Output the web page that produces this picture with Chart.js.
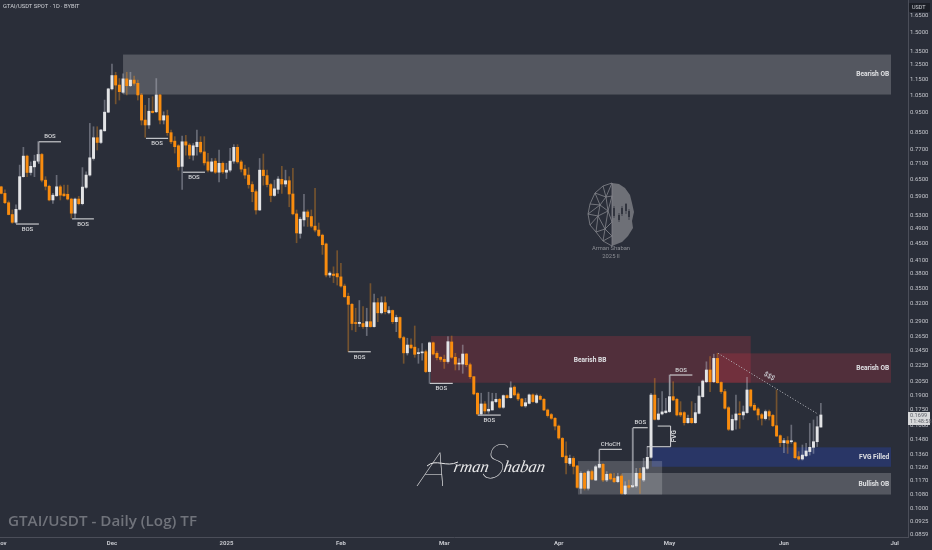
<!DOCTYPE html>
<html>
<head>
<meta charset="utf-8">
<title>GTAI/USDT</title>
<script src="https://cdn.jsdelivr.net/npm/chart.js@4"></script>
<style>
  html, body { margin: 0; padding: 0; background: #2a2e39; overflow: hidden; }
  canvas { display: block; }
</style>
</head>
<body>
<canvas id="chart" width="932" height="550"></canvas>
<script>
// daily candles, index 0 = 1 Nov 2024
const opens = [
  .623,.600,.569,.532,.509,.548,.660,.742,.676,.698,
  .721,.749,.647,.625,.578,.592,.623,.598,.597,.581,
  .536,.581,.566,.621,.666,.732,.824,.802,.857,.953,
  1.088,1.174,1.112,1.067,1.152,1.108,1.144,1.123,1.051,.911,
  .886,.958,.955,1.051,.911,.934,.848,.808,.787,.700,
  .805,.790,.746,.783,.803,.760,.718,.681,.721,.677,
  .712,.677,.685,.721,.780,.718,.689,.666,.631,.606,
  .546,.685,.664,.631,.593,.614,.650,.633,.645,.598,
  .534,.478,.516,.540,.526,.498,.487,.473,.450,.377,
  .379,.380,.373,.354,.334,.319,.287,.286,.286,.281,
  .289,.281,.322,.304,.322,.304,.308,.289,.296,.264,
  .242,.253,.250,.241,.242,.2436,.2175,.2563,.2414,.2360,
  .2332,.2303,.2575,.2360,.2270,.2270,.2404,.2262,.2113,.1923,
  .1709,.1809,.1738,.1748,.1833,.1857,.1775,.1897,.1875,.1991,
  .1915,.1861,.1789,.1815,.1905,.1825,.1890,.1857,.1748,.1703,
  .1667,.1595,.1487,.1345,.1289,.1327,.1271,.1119,.1219,.1119,
  .1231,.1173,.1261,.1283,.1173,.1214,.1185,.1162,.1200,.1085,
  .1136,.1128,.1134,.1219,.1173,.1254,.1335,.1903,.1657,.1709,
  .1722,.1732,.1886,.1857,.1722,.1722,.1626,.1667,.1626,.1715,
  .1886,.2053,.2195,.2053,.2345,.2045,.1941,.1771,.1560,.1651,
  .1709,.1699,.1722,.1959,.1795,.1758,.1702,.1664,.1732,.1695,
  .1598,.1510,.1451,.1468,.1459,.1451,.1340,.1322,.1347,.1379,
  .1413,.1459,.1586
];
const highs = [
  .625,.612,.575,.546,.562,.705,.780,.746,.718,.746,
  .806,.754,.660,.629,.600,.665,.629,.629,.629,.584,
  .584,.590,.695,.678,.894,.877,.877,.864,1.021,1.092,
  1.253,1.196,1.154,1.185,1.196,1.196,1.170,1.144,1.061,.991,
  1.031,1.041,1.154,1.055,.955,.964,.861,.829,.792,.832,
  .835,.797,.797,.861,.829,.829,.754,.732,.732,.768,
  .718,.712,.776,.792,.792,.725,.705,.695,.641,.612,
  .732,.751,.685,.635,.647,.660,.700,.685,.660,.692,
  .546,.524,.597,.546,.546,.618,.507,.476,.452,.384,
  .395,.433,.403,.358,.340,.321,.312,.326,.315,.312,
  .359,.338,.330,.333,.333,.315,.309,.300,.297,.266,
  .263,.262,.282,.248,.255,.2459,.2575,.2575,.2436,.2368,
  .239,.2654,.2664,.2414,.2344,.2530,.2414,.2282,.2113,.1930,
  .1923,.1833,.1934,.1923,.1923,.1868,.1905,.1905,.2053,.2007,
  .1930,.1868,.1868,.1915,.1915,.1915,.1905,.1868,.1758,.1715,
  .1677,.1605,.1495,.1459,.1352,.1340,.1276,.1231,.1226,.1242,
  .1242,.1276,.1392,.1289,.1231,.1219,.1219,.1219,.1214,.1162,
  .1173,.1575,.1254,.1254,.1327,.1419,.1921,.2092,.1868,.1941,
  .1868,.2134,.2053,.1868,.1833,.1732,.1699,.1833,.1815,.1996,
  .2073,.2300,.2368,.2402,.2414,.2053,.1967,.1783,.1699,.1903,
  .1833,.1788,.2105,.1967,.1815,.1771,.1715,.1748,.1748,.1705,
  .1959,.1517,.1487,.1502,.1604,.1459,.1379,.1432,.1446,.1619,
  .1651,.1684,.1815
];
const lows = [
  .598,.566,.531,.506,.506,.546,.658,.660,.666,.660,
  .717,.641,.612,.575,.567,.590,.578,.590,.578,.521,
  .521,.562,.562,.617,.662,.725,.768,.797,.855,.950,
  1.081,.999,1.021,1.061,1.051,1.102,1.112,1.021,.886,.826,
  .869,.948,.950,.891,.891,.835,.797,.755,.685,.614,
  .746,.731,.725,.746,.754,.705,.678,.678,.672,.641,
  .672,.653,.678,.712,.712,.678,.653,.618,.572,.533,
  .544,.629,.623,.572,.590,.600,.600,.623,.556,.531,
  .453,.465,.498,.497,.494,.482,.469,.424,.373,.372,
  .361,.356,.352,.332,.2436,.2756,.273,.281,.278,.267,
  .280,.280,.289,.302,.302,.302,.286,.273,.262,.228,
  .239,.248,.236,.228,.232,.2162,.2035,.239,.2323,.2303,
  .2215,.2282,.2344,.2195,.2195,.2154,.2236,.2093,.1905,.1698,
  .1698,.1715,.1715,.1748,.1822,.1765,.1765,.1868,.1868,.1893,
  .1843,.1782,.1775,.1809,.1825,.1815,.1850,.1741,.1678,.1657,
  .1560,.1479,.1335,.1214,.1276,.1214,.1119,.1087,.1108,.1108,
  .1173,.1169,.1254,.1162,.1162,.1173,.1155,.1155,.1081,.1079,
  .1112,.1125,.1125,.1087,.1162,.1247,.1327,.1651,.1651,.1699,
  .1715,.1722,.1843,.1689,.1682,.1604,.1619,.1619,.1619,.1709,
  .1879,.2042,.1941,.2042,.2034,.1921,.1755,.1554,.1554,.1566,
  .1574,.1657,.1715,.1775,.1741,.1651,.1604,.1651,.1651,.1589,
  .1502,.1419,.1371,.1365,.1446,.1327,.1314,.1314,.1340,.1352,
  .1365,.1419,.1586
];
const closes = [
  .600,.569,.532,.509,.548,.660,.742,.676,.700,.721,
  .749,.647,.625,.578,.594,.623,.594,.592,.581,.536,
  .581,.566,.622,.666,.735,.824,.802,.861,.953,1.088,
  1.174,1.112,1.071,1.152,1.108,1.144,1.123,1.051,.911,.886,
  .958,.951,1.051,.911,.934,.848,.805,.783,.698,.805,
  .790,.746,.787,.803,.760,.714,.685,.718,.677,.712,
  .678,.685,.721,.780,.718,.689,.666,.631,.606,.546,
  .685,.664,.631,.593,.616,.651,.633,.645,.598,.534,
  .479,.518,.540,.525,.498,.487,.472,.448,.377,.381,
  .376,.373,.354,.333,.319,.286,.286,.288,.281,.289,
  .281,.322,.304,.322,.306,.308,.289,.296,.264,.242,
  .253,.249,.240,.242,.243,.2175,.2563,.2404,.2355,.2332,
  .2303,.2579,.2360,.2270,.2282,.2404,.2262,.2113,.1915,.1709,
  .1809,.1738,.1755,.1833,.1857,.1775,.1897,.1875,.1983,.1905,
  .1861,.1789,.1822,.1905,.1833,.1897,.1857,.1748,.1693,.1667,
  .1595,.1490,.1340,.1294,.1327,.1268,.1125,.1219,.1119,.1231,
  .1178,.1265,.1283,.1173,.1212,.1180,.1162,.1196,.1087,.1134,
  .1125,.1138,.1219,.1185,.1259,.1335,.1903,.1657,.1709,.1729,
  .1738,.1886,.1850,.1699,.1699,.1626,.1667,.1626,.1722,.1893,
  .2061,.2195,.2053,.2345,.2042,.1941,.1765,.1566,.1657,.1709,
  .1702,.1729,.1959,.1788,.1748,.1699,.1667,.1732,.1689,.1598,
  .1507,.1451,.1468,.1446,.1465,.1332,.1322,.1352,.1384,.1413,
  .1459,.1589,.1699
];

const priceTicks = [1.65,1.5,1.35,1.25,1.15,1.05,.95,.85,.77,.71,.65,.59,.53,.49,.45,.41,.38,.35,.32,.29,
  .265,.245,.225,.205,.19,.175,.16,.148,.136,.126,.117,.108,.1,.0925,.0859];
const monthDays = [0,30,61,92,120,151,181,212,242];
const monthNames = ['Nov','Dec','2025','Feb','Mar','Apr','May','Jun','Jul'];

// zones: day from, day to, top price, bottom price
const zoneFrom  = [33, 116.4, 194.2, 176.2, 156.2, 168.1];
const zoneTo    = [241, 203, 241, 241, 179, 241];
const zoneTop   = [1.323, .2663, .2413, .1413, .1307, .1221];
const zoneBot   = [1.0536, .2041, .2041, .1265, .108, .108];
const zoneFill  = ['rgba(255,255,255,.2)','rgba(242,54,69,.2)','rgba(242,54,69,.2)','rgba(41,60,130,.62)','rgba(255,255,255,.18)','rgba(255,255,255,.2)'];

// structure lines
const bosFrom  = [10.2, 4, 19.2, 39.2, 49.2, 94, 116.1, 129.1, 162, 171.1, 181.1];
const bosTo    = [16.2, 10.2, 25.1, 45.2, 55.2, 100.1, 122.3, 135.3, 168.1, 175.1, 187.2];
const bosPrice = [.805, .504, .519, .821, .677, .2435, .2034, .1698, .1397, .158, .2133];
const bosText  = ['BOS','BOS','BOS','BOS','BOS','BOS','BOS','BOS','CHoCH','BOS','BOS'];
const bosAbove = [1,0,0,0,0,0,0,0,1,1,1];

const fallDays   = [194.2, 221.2];
const fallPrices = [.2413, .1708];

const upCol = '#e3e4e6', downCol = '#f98c0e';

const idx = opens.map((_, i) => i);
const isUp = i => closes[i] >= opens[i];

const overlay = {
  id: 'overlay',
  beforeDatasetsDraw(chart) {
    const { ctx, scales: { x, y } } = chart;
    ctx.save();
    zoneFrom.forEach((d, i) => {
      const x0 = x.getPixelForValue(d), x1 = x.getPixelForValue(zoneTo[i]);
      const y0 = y.getPixelForValue(zoneTop[i]), y1 = y.getPixelForValue(zoneBot[i]);
      ctx.fillStyle = zoneFill[i];
      ctx.fillRect(x0, y0, x1 - x0, y1 - y0);
    });
    drawLogo(ctx);
    ctx.restore();
  },
  afterDatasetsDraw(chart) {
    const { ctx, scales: { x, y } } = chart;
    ctx.save();
    ctx.textAlign = 'center';
    ctx.textBaseline = 'middle';

    bosFrom.forEach((d, i) => {
      const x0 = x.getPixelForValue(d), x1 = x.getPixelForValue(bosTo[i]);
      const py = y.getPixelForValue(bosPrice[i]);
      ctx.strokeStyle = '#d5d6d9';
      ctx.lineWidth = 1.1;
      ctx.beginPath(); ctx.moveTo(x0, py); ctx.lineTo(x1, py); ctx.stroke();
      ctx.fillStyle = '#d5d6d9';
      ctx.font = '500 6px Roboto';
      ctx.fillText(bosText[i], (x0 + x1) / 2, py + (bosAbove[i] ? -5 : 5.5));
    });

    // little stems joining the structure lines to their candle
    ctx.strokeStyle = '#a9abb1';
    ctx.lineWidth = 1;
    [[10.2, .805, .71], [162, .1397, .1285], [171.1, .158, .1133], [181.1, .2133, .19]].forEach(s => {
      const sx = x.getPixelForValue(s[0]);
      ctx.beginPath(); ctx.moveTo(sx, y.getPixelForValue(s[1])); ctx.lineTo(sx, y.getPixelForValue(s[2])); ctx.stroke();
    });

    // FVG bracket
    ctx.strokeStyle = '#d5d6d9';
    ctx.beginPath();
    ctx.moveTo(x.getPixelForValue(177.8), y.getPixelForValue(.1595));
    ctx.lineTo(x.getPixelForValue(181.3), y.getPixelForValue(.1595));
    ctx.lineTo(x.getPixelForValue(181.3), y.getPixelForValue(.1418));
    ctx.lineTo(x.getPixelForValue(174.9), y.getPixelForValue(.1418));
    ctx.stroke();
    ctx.save();
    ctx.translate(x.getPixelForValue(182.4), y.getPixelForValue(.1505));
    ctx.rotate(-Math.PI / 2);
    ctx.fillStyle = '#d5d6d9';
    ctx.font = 'bold 6.5px Roboto';
    ctx.fillText('FVG', 0, 0);
    ctx.restore();

    // $$$ falling line
    const ax = x.getPixelForValue(fallDays[0]), ay = y.getPixelForValue(fallPrices[0]);
    const bx = x.getPixelForValue(fallDays[1]), by = y.getPixelForValue(fallPrices[1]);
    ctx.strokeStyle = '#b9bbc0';
    ctx.lineWidth = 1;
    ctx.setLineDash([1, 2]);
    ctx.beginPath(); ctx.moveTo(ax, ay); ctx.lineTo(bx, by); ctx.stroke();
    ctx.setLineDash([]);
    ctx.save();
    ctx.translate(x.getPixelForValue(208), y.getPixelForValue(.2115));
    ctx.rotate(Math.atan2(by - ay, bx - ax));
    ctx.fillStyle = '#c9cad0';
    ctx.font = 'bold 6.5px Roboto';
    ctx.fillText('$$$', 0, 0);
    ctx.restore();

    // zone captions
    ctx.fillStyle = '#dfe0e3';
    ctx.font = 'bold 6.6px Roboto';
    ctx.fillText('Bearish BB', x.getPixelForValue(159.5), y.getPixelForValue(.2323));
    ctx.textAlign = 'right';
    const rightEdge = x.getPixelForValue(240.5);
    ctx.fillText('Bearish OB', rightEdge, y.getPixelForValue(1.18));
    ctx.fillText('Bearish OB', rightEdge, y.getPixelForValue(.2215));
    ctx.fillText('FVG Filled', rightEdge, y.getPixelForValue(.1335));
    ctx.fillText('Bullish OB', rightEdge, y.getPixelForValue(.1145));

    drawSignature(ctx);
    ctx.restore();
  },
  afterDraw(chart) {
    const { ctx } = chart;
    ctx.save();
    ctx.textBaseline = 'middle';
    ctx.textAlign = 'left';
    ctx.fillStyle = '#cfd1d6';
    ctx.font = '5.8px Roboto';
    ctx.fillText('GTAI/USDT SPOT · 1D · BYBIT', 3, 7);

    ctx.fillStyle = '#70737b';
    ctx.font = '600 15.2px "Open Sans"';
    ctx.fillText('GTAI/USDT - Daily (Log) TF', 8, 522);

    // USDT badge
    ctx.fillStyle = '#1c1f27';
    ctx.fillRect(909, 3, 21, 9);
    ctx.fillStyle = '#cfd1d6';
    ctx.font = '5.5px Roboto';
    ctx.fillText('USDT', 912, 7.5);

    // last price tag
    ctx.fillStyle = '#d7d8da';
    ctx.fillRect(908, 412, 22, 13);
    ctx.fillStyle = '#5d6068';
    ctx.font = '5.6px Roboto';
    ctx.fillText('0.1699', 910, 415.5);
    ctx.fillText('11:48:58', 910, 421.5);
    ctx.restore();
  }
};

function drawLogo(ctx) {
  ctx.save();
  ctx.fillStyle = '#6e7077';
  ctx.beginPath();
  [[612,183],[619,184],[625,188],[630,195],[632,203],[634,212],[632,221],[633,228],[628,236],[622,242],[612,246]]
    .forEach((p, i) => i ? ctx.lineTo(p[0], p[1]) : ctx.moveTo(p[0], p[1]));
  ctx.closePath();
  ctx.fill();

  const o = { a:[612,183], b:[603,186], c:[595,193], d:[590,204], e:[588,214], f:[590,225], g:[596,232], h:[603,241], i:[612,246],
    j:[600,205], k:[606,197], l:[612,196], m:[598,216], n:[608,211], q:[612,222], r:[605,229], s:[612,236] };
  const wires = ['ab','bc','cd','de','ef','fg','gh','hi','ak','bk','ck','cj','dj','kj','kl','al','ej','em','jm','jn','kn','ln','mn','fm','gm','mr','nr','nq','lq','qr','gr','hr','rs','qs','is','hs'];
  ctx.strokeStyle = '#85878d';
  ctx.lineWidth = .8;
  wires.forEach(w => {
    ctx.beginPath(); ctx.moveTo(o[w[0]][0], o[w[0]][1]); ctx.lineTo(o[w[1]][0], o[w[1]][1]); ctx.stroke();
  });

  ctx.strokeStyle = '#32353f';
  ctx.fillStyle = '#32353f';
  [[614,206,218,208,216],[619,213,222,215,220],[622,206,216,208,214],[626,203,214,204,211],[629,209,220,211,217]].forEach(c => {
    ctx.beginPath(); ctx.moveTo(c[0], c[1]); ctx.lineTo(c[0], c[2]); ctx.stroke();
    ctx.fillRect(c[0] - 1, c[3], 2, c[4] - c[3]);
  });

  ctx.fillStyle = '#8d8f95';
  ctx.textAlign = 'center';
  ctx.textBaseline = 'middle';
  ctx.font = '5.8px Roboto';
  ctx.fillText('Arman Shaban', 611, 249);
  ctx.fillText('2025 ll', 611, 257);
  ctx.restore();
}

function drawSignature(ctx) {
  ctx.save();
  ctx.fillStyle = '#e9e9ea';
  ctx.strokeStyle = '#e9e9ea';
  ctx.textAlign = 'left';
  ctx.textBaseline = 'alphabetic';
  ctx.lineWidth = 1;
  // pen flourish over the crossbar of the A
  ctx.beginPath(); ctx.moveTo(427, 466); ctx.bezierCurveTo(436, 458, 446, 468, 458, 462); ctx.stroke();
  ctx.transform(1, 0, -0.18, 1, 85, 0);
  ctx.font = 'italic 16.5px "Liberation Serif"';
  ctx.fillText('rman', 453, 472);
  ctx.fillText('haban', 503, 472);
  ctx.font = 'italic 100 48px Lato';
  ctx.fillText('A', 420, 486);
  ctx.fillText('S', 482, 478);
  ctx.restore();
}

new Chart(document.getElementById('chart'), {
  type: 'bar',
  data: {
    datasets: [
      {
        label: 'wick',
        data: idx.map(i => ({ x: i, y: [lows[i], highs[i]] })),
        backgroundColor: idx.map(i => isUp(i) ? 'rgba(190,194,204,.42)' : 'rgba(249,150,30,.36)'),
        barThickness: 1,
        minBarLength: 1,
        order: 2
      },
      {
        label: 'body',
        data: idx.map(i => ({ x: i, y: [Math.min(opens[i], closes[i]), Math.max(opens[i], closes[i])] })),
        backgroundColor: idx.map(i => isUp(i) ? upCol : downCol),
        barThickness: 2.3,
        minBarLength: 1,
        order: 1
      }
    ]
  },
  options: {
    responsive: false,
    animation: false,
    grouped: false,
    layout: { padding: 0 },
    plugins: { legend: { display: false }, tooltip: { enabled: false } },
    scales: {
      x: {
        type: 'linear',
        offset: false,
        min: -0.33,
        max: 245.6,
        grid: { display: false, drawTicks: false },
        border: { color: '#4b4e59', width: 1 },
        afterBuildTicks: s => { s.ticks = monthDays.map(v => ({ value: v })); },
        afterFit: s => { s.height = 13; s.paddingLeft = 0; s.paddingRight = 0; },
        ticks: {
          autoSkip: false,
          maxRotation: 0,
          padding: 3,
          color: '#c4c6cc',
          font: { family: 'Roboto', size: 6, weight: 'bold' },
          callback: v => monthNames[monthDays.indexOf(v)]
        }
      },
      y: {
        type: 'logarithmic',
        position: 'right',
        bounds: 'data',
        min: 0.0848,
        max: 1.805,
        grid: { display: false, drawTicks: false },
        border: { color: '#4b4e59', width: 1 },
        afterBuildTicks: s => { s.ticks = priceTicks.map(v => ({ value: v })); },
        afterFit: s => { s.width = 24; s.paddingTop = 0; s.paddingBottom = 0; },
        ticks: {
          autoSkip: false,
          padding: 2,
          color: '#c4c6cc',
          font: { family: 'Roboto', size: 6 },
          callback: v => Number(v).toFixed(4)
        }
      }
    }
  },
  plugins: [overlay]
});
</script>
</body>
</html>
